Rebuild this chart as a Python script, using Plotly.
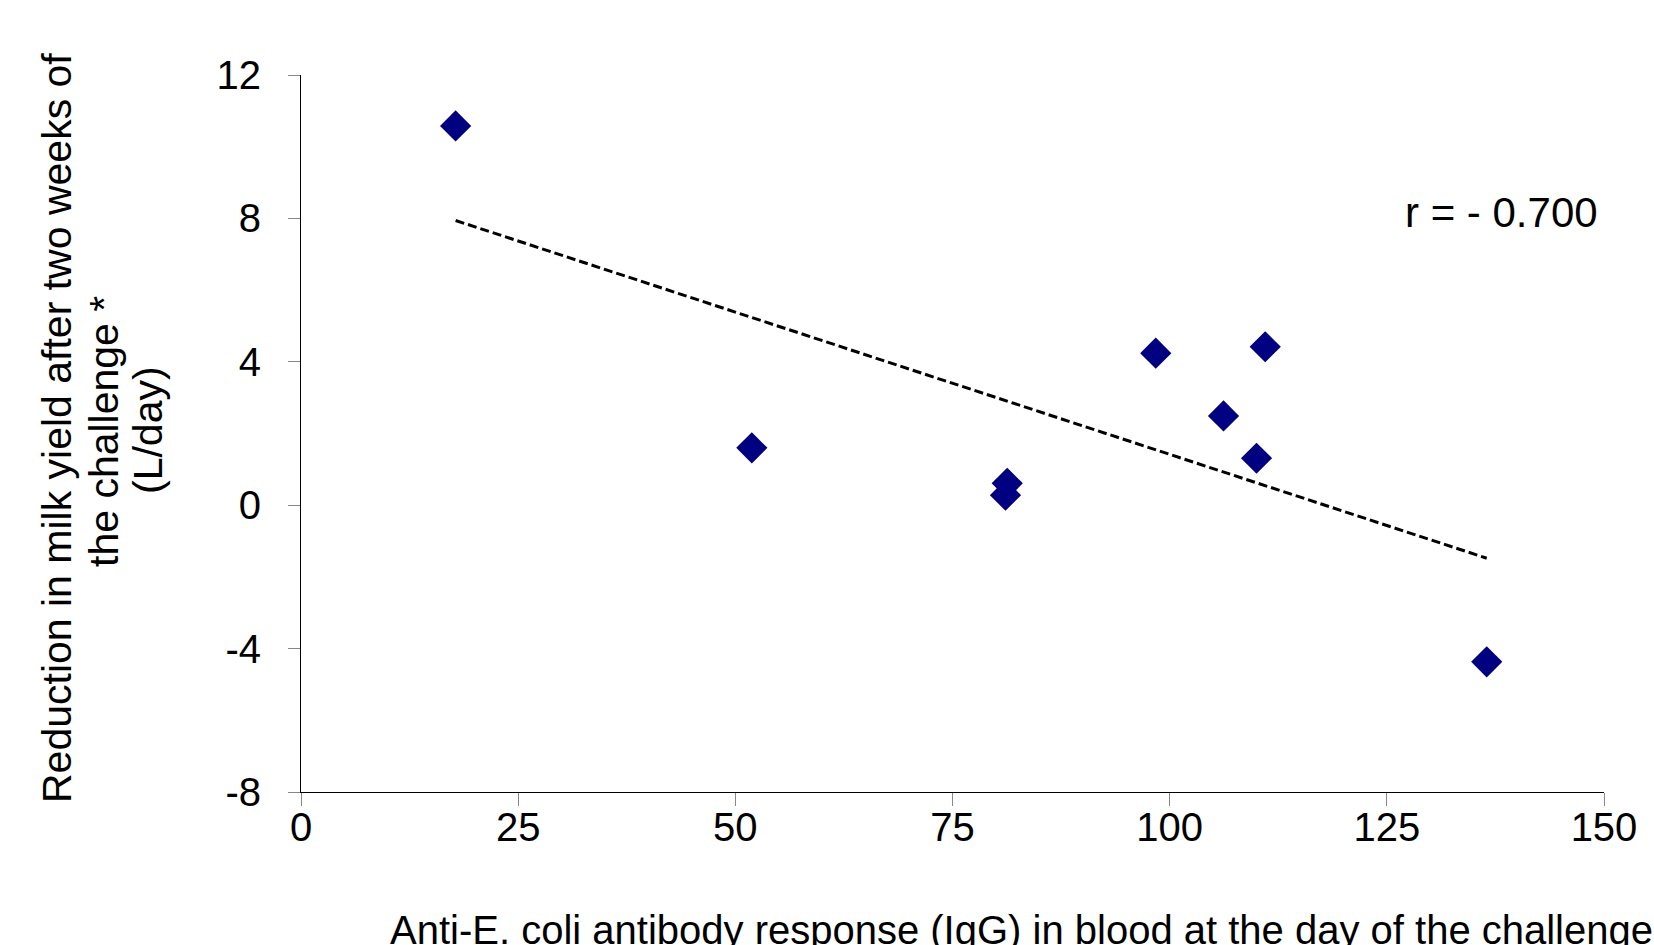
import numpy as np
import plotly.graph_objects as go

# Antibody response (IgG) and milk yield reduction per cow
igg = [17.8, 51.9, 81.3, 81.1, 98.4, 111.0, 106.2, 110.0, 136.5]
milk_reduction = [10.58, 1.60, 0.61, 0.28, 4.24, 4.42, 2.49, 1.31, -4.37]
r_label = "r = - 0.700"

x_ticks = [0, 25, 50, 75, 100, 125, 150]
y_ticks = [-8, -4, 0, 4, 8, 12]
y_tick_text = ["-8", "-4", "0", "4", "8", "12"]

W, H = 1654, 945
M = dict(l=301, r=50, t=75, b=153)
PW = W - M["l"] - M["r"]
PH = H - M["t"] - M["b"]


def px_x(p):
    return (p - M["l"]) / PW


def px_y(p):
    return (H - M["b"] - p) / PH


FONT = "Liberation Sans, Arial, sans-serif"

# least-squares trend line across the observed range
slope, intercept = np.polyfit(igg, milk_reduction, 1)
tx = np.array([min(igg), max(igg)])
ty = slope * tx + intercept

fig = go.Figure()
fig.add_trace(go.Scatter(
    x=tx, y=ty, mode="lines",
    line=dict(color="black", width=3, dash="9px,4px"),
    hoverinfo="skip", showlegend=False,
))
fig.add_trace(go.Scatter(
    x=igg, y=milk_reduction, mode="markers",
    marker=dict(symbol="diamond", size=24, color="#000080", line=dict(width=0)),
    showlegend=False,
))

axis_common = dict(
    showgrid=False, zeroline=False, showline=True, linecolor="black", linewidth=1,
    ticks="outside", tickcolor="#888888", tickwidth=1,
    tickfont=dict(family=FONT, size=40, color="black"),
)
fig.update_xaxes(range=[0, 150], tickvals=x_ticks, ticklen=13,
                 ticklabelstandoff=-13, **axis_common)
fig.update_yaxes(range=[-8, 12], tickvals=y_ticks, ticktext=y_tick_text, ticklen=12,
                 ticklabelstandoff=19, **axis_common)

annotations = [
    dict(text=r_label, x=px_x(1403), y=px_y(212), xanchor="left", yanchor="middle",
         font=dict(size=42)),
    dict(text="Anti-E. coli antibody response (IgG) in blood at the day of the challenge",
         x=px_x(388), y=px_y(930), xanchor="left", yanchor="middle",
         font=dict(size=40)),
    dict(text="Reduction in milk yield after two weeks of",
         x=px_x(57), y=px_y(428), textangle=-90, xanchor="center", yanchor="middle",
         font=dict(size=41)),
    dict(text="the challenge *",
         x=px_x(104), y=px_y(432), textangle=-90, xanchor="center", yanchor="middle",
         font=dict(size=41)),
    dict(text="(L/day)",
         x=px_x(148), y=px_y(430), textangle=-90, xanchor="center", yanchor="middle",
         font=dict(size=41)),
]
for a in annotations:
    a.update(xref="paper", yref="paper", showarrow=False)
    a["font"].update(family=FONT, color="black")

fig.update_layout(
    width=W, height=H, margin=M,
    paper_bgcolor="white", plot_bgcolor="white",
    annotations=annotations,
)

fig.write_html("out.html")
